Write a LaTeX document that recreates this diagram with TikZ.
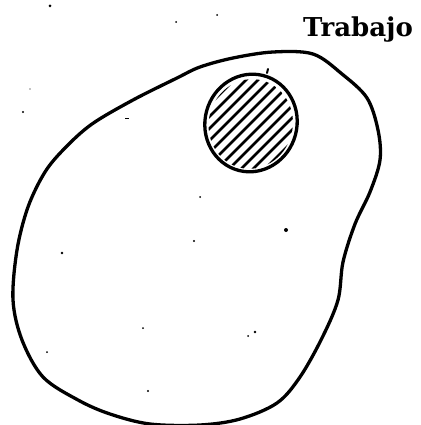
\documentclass[tikz,border=0pt]{standalone}
\usepackage{fontspec}
\newfontfamily\labelfont{DejaVu Serif}
\begin{document}
\begin{tikzpicture}[x=1pt,y=-1pt,
  outline/.style={line width=3.3pt,line join=round,line cap=round},
  hatch/.style={line width=2.6pt,line cap=round},
  speck/.style={fill=black}]
\useasboundingbox (0,0) rectangle (420,425);
% outer blob
\draw[outline] plot[smooth cycle,tension=0.55] coordinates {
 (273,52) (313,54) (342,74) (367,98) (378,130) (380,160) (370,192) (355,224)
 (343,262) (338,300) (322,338) (300,377) (277,403) (240,419) (200,425) (150,424)
 (110,414) (78,400) (43,377) (22,340) (13,300) (17,250) (28,207) (45,172)
 (65,148) (92,124) (133,100) (177,78) (200,67) (233,58)};
% hatched ellipse
\begin{scope}
 \clip[rotate around={-15:(251,123)}] (251,124) ellipse (42 and 45);
 \foreach \k in {-72,-60,...,72}{
   \draw[hatch] (251+\k-70,123+70) -- (251+\k+70,123-70);
 }
\end{scope}
\draw[outline,rotate around={-15:(251,123)}] (251,123) ellipse (46 and 49);
\draw[line width=2pt,line cap=round] (267,73) -- (268,69);
% specks
\foreach \p/\r in {(50,6)/1.5,(176,22)/1,(217,15)/1,(30,89)/0.7,(23,112)/1.2,
  (200,197)/1,(286,230)/2,(194,241)/1.2,(62,253)/1.3,(143,328)/1,(255,332)/1.3,
  (248,336)/1,(47,352)/1,(148,391)/1.2}{
  \fill[speck] \p circle (\r);
}
\draw[line width=1pt] (125,118) -- (129,118);
% label
\node[anchor=base west,inner sep=0pt,font=\labelfont\bfseries\fontsize{26}{30}\selectfont] (lab) at (303,37) {Trabajo};
\end{tikzpicture}
\end{document}
